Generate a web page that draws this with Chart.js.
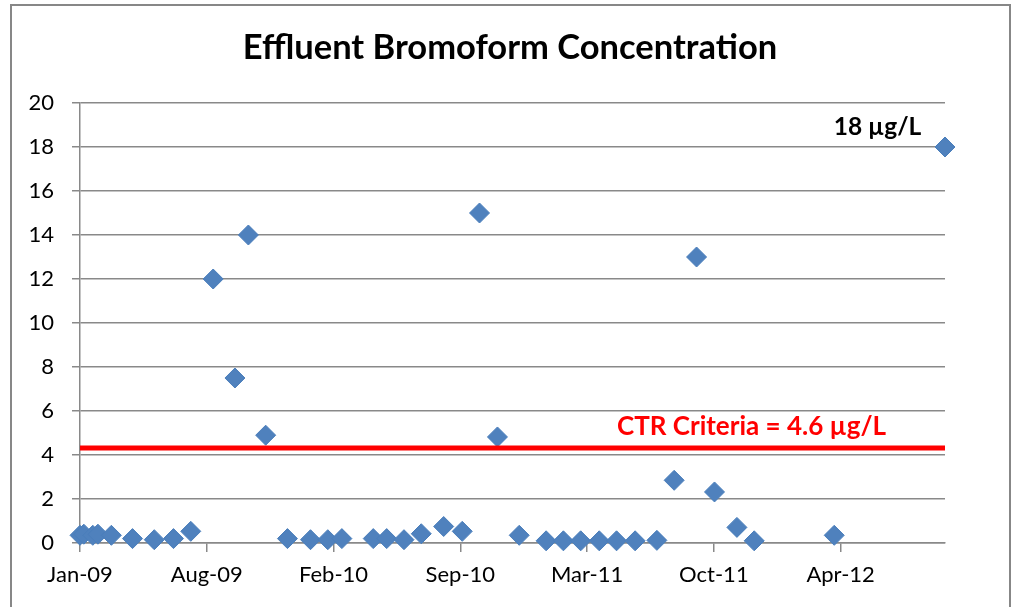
<!DOCTYPE html>
<html>
<head>
<meta charset="utf-8">
<script src="https://cdn.jsdelivr.net/npm/chart.js@4/dist/chart.umd.min.js"></script>
<style>
  body { margin: 0; background: #fff; }
  #wrap { width: 1011px; height: 607px; }
</style>
</head>
<body>
<div id="wrap"><canvas id="myChart" width="1011" height="607"></canvas></div>
<script>
// x = days after the Jan-09 axis origin
const sampleDays = [0, 6, 20, 28, 49, 82, 116, 146, 173, 208, 242, 263, 290, 324, 360, 387, 409, 458, 479, 506, 533, 568, 597, 624, 652, 686, 728, 755, 782, 811, 838, 867, 901, 928, 963, 991, 1026, 1053, 1178, 1351];
const bromoform = [0.35, 0.4, 0.35, 0.4, 0.35, 0.2, 0.15, 0.2, 0.53, 12, 7.5, 14, 4.9, 0.2, 0.15, 0.15, 0.2, 0.2, 0.2, 0.15, 0.42, 0.75, 0.53, 15, 4.82, 0.35, 0.1, 0.1, 0.1, 0.1, 0.1, 0.1, 0.12, 2.85, 13, 2.32, 0.71, 0.1, 0.35, 18];

const tickDays = [0, 198, 396, 594, 792, 990, 1188];
const tickLabels = ["Jan-09", "Aug-09", "Feb-10", "Sep-10", "Mar-11", "Oct-11", "Apr-12"];
const xMax = 1351;

const criteriaLine = 4.32;
const titleText = "Effluent Bromoform Concentration";
const criteriaText = "CTR Criteria = 4.6 µg/L";
const maxText = "18 µg/L";

const points = sampleDays.map((d, i) => ({ x: d, y: bromoform[i] }));
const gridGray = "#898989";

// title, text notes + outer frame
const notesPlugin = {
	id: "notes",
	beforeDraw(chart) {
		const c = chart.ctx;
		c.save();
		c.strokeStyle = "#878787";
		c.lineWidth = 2;
		c.strokeRect(11, 5, 999, 700);
		c.fillStyle = "#000";
		c.font = "bold 34.5px Lato";
		c.textAlign = "center";
		c.textBaseline = "alphabetic";
		c.fillText(titleText, 510, 59);
		c.restore();
	},
	afterDatasetsDraw(chart) {
		const c = chart.ctx;
		const xs = chart.scales.x, ys = chart.scales.y;
		c.save();
		c.textAlign = "right";
		c.textBaseline = "middle";
		c.font = "bold 26px Lato";
		c.fillStyle = "#FF0000";
		c.fillText(criteriaText, xs.getPixelForValue(1259), ys.getPixelForValue(5.3));
		c.font = "bold 24.5px Lato";
		c.fillStyle = "#000000";
		c.fillText(maxText, xs.getPixelForValue(1314), ys.getPixelForValue(18.9));
		c.restore();
	},
};

const ctx = document.getElementById("myChart").getContext("2d");
const myChart = new Chart(ctx, {
	type: "scatter",
	data: {
		datasets: [
			{
				type: "line",
				label: "CTR Criteria",
				data: [{ x: 0, y: criteriaLine }, { x: xMax, y: criteriaLine }],
				borderColor: "#FF0000",
				borderWidth: 5,
				pointRadius: 0,
				fill: false,
			},
			{
				label: "Effluent Bromoform",
				data: points,
				pointStyle: "rectRot",
				pointRadius: 10,
				backgroundColor: "#4F81BD",
				borderColor: "#4A7EBB",
				borderWidth: 1,
				clip: false,
			},
		],
	},
	options: {
		responsive: false,
		animation: false,
		layout: { padding: { left: 0, right: 66, top: 103, bottom: 0 } },
		plugins: {
			legend: { display: false },
			tooltip: { enabled: false },
			title: { display: false },
		},
		scales: {
			x: {
				type: "linear",
				min: 0,
				max: xMax,
				afterBuildTicks: (scale) => {
					scale.ticks = tickDays.map((v) => ({ value: v }));
				},
				afterFit: (scale) => {
					scale.height = 64;
				},
				ticks: {
					callback: (v) => tickLabels[tickDays.indexOf(v)],
					color: "#000",
					font: { family: "Lato", size: 22 },
					padding: 10,
					maxRotation: 0,
					autoSkip: false,
				},
				grid: { drawOnChartArea: false, drawTicks: true, tickLength: 9, color: gridGray, lineWidth: 1.5 },
				border: { display: true, color: gridGray, width: 1.5 },
			},
			y: {
				min: 0,
				max: 20,
				afterFit: (scale) => {
					scale.width = 80;
				},
				ticks: {
					stepSize: 2,
					color: "#000",
					font: { family: "Lato", size: 22 },
					padding: 18,
				},
				grid: { drawTicks: true, tickLength: 8, color: gridGray, lineWidth: 1.5 },
				border: { display: true, color: gridGray, width: 1.5 },
			},
		},
	},
	plugins: [notesPlugin],
});
</script>
</body>
</html>
